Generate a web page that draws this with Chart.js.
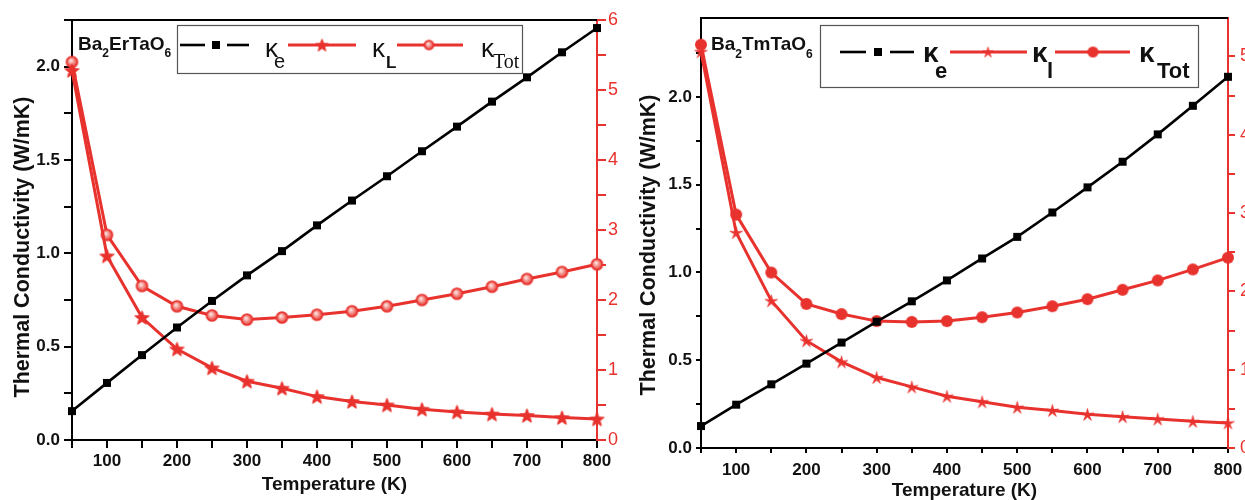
<!DOCTYPE html>
<html>
<head>
<meta charset="utf-8">
<script src="https://cdn.jsdelivr.net/npm/chart.js@4.4.0/dist/chart.umd.min.js"></script>
<style>
  html, body { margin: 0; padding: 0; background: #fff; overflow: hidden; width: 1245px; height: 500px; }
  .panel { position: absolute; top: 0; }
  #p1 { left: 0; }
  #p2 { left: 625px; }
</style>
</head>
<body>
<div class="panel" id="p1"><canvas id="c1" width="625" height="500"></canvas></div>
<div class="panel" id="p2"><canvas id="c2" width="640" height="505"></canvas></div>
<script>
// temperature (K)
const temps = [50, 100, 150, 200, 250, 300, 350, 400, 450, 500, 550, 600, 650, 700, 750, 800];

// Ba2ErTaO6 (W/mK)
const erKe   = [0.155, 0.306, 0.455, 0.603, 0.745, 0.882, 1.012, 1.150, 1.283, 1.413, 1.547, 1.679, 1.813, 1.943, 2.077, 2.207];
const erKl   = [5.28, 2.63, 1.75, 1.30, 1.03, 0.84, 0.74, 0.62, 0.55, 0.50, 0.44, 0.40, 0.37, 0.35, 0.32, 0.30];
const erKtot = [5.40, 2.93, 2.20, 1.91, 1.78, 1.72, 1.75, 1.79, 1.84, 1.91, 2.00, 2.09, 2.19, 2.30, 2.40, 2.51];

// Ba2TmTaO6 (W/mK)
const tmKe   = [0.125, 0.247, 0.363, 0.481, 0.601, 0.720, 0.836, 0.955, 1.080, 1.203, 1.342, 1.485, 1.631, 1.787, 1.950, 2.115];
const tmKl   = [5.06, 2.75, 1.88, 1.37, 1.10, 0.90, 0.78, 0.66, 0.59, 0.52, 0.48, 0.43, 0.40, 0.37, 0.34, 0.32];
const tmKtot = [5.15, 2.98, 2.24, 1.84, 1.71, 1.62, 1.61, 1.62, 1.67, 1.73, 1.81, 1.90, 2.02, 2.14, 2.28, 2.43];

const xTickLabels = [100, 200, 300, 400, 500, 600, 700, 800];

const RED = '#e8322e';
const INK = '#111';
const SANS = '"Liberation Sans", Arial, sans-serif';
const SERIF = '"Liberation Serif", "Times New Roman", serif';

// ---- marker images ----
function starImage(outer, inner, fill, stroke, lw) {
  const pad = Math.ceil(lw) + 1;
  const size = Math.ceil(outer * 2) + pad * 2;
  const c = document.createElement('canvas');
  c.width = c.height = size;
  const g = c.getContext('2d');
  const cx = size / 2, cy = size / 2 + outer * 0.1;
  g.beginPath();
  for (let i = 0; i < 10; i++) {
    const a = -Math.PI / 2 + i * Math.PI / 5;
    const r = i % 2 ? inner : outer;
    g.lineTo(cx + r * Math.cos(a), cy + r * Math.sin(a));
  }
  g.closePath();
  if (fill) { g.fillStyle = fill; g.fill(); }
  if (stroke) { g.strokeStyle = stroke; g.lineWidth = lw; g.lineJoin = 'round'; g.stroke(); }
  return c;
}

function ballImage(r, shaded) {
  const size = Math.ceil(r * 2) + 4;
  const c = document.createElement('canvas');
  c.width = c.height = size;
  const g = c.getContext('2d');
  const cx = size / 2, cy = size / 2;
  g.beginPath();
  g.arc(cx, cy, r, 0, Math.PI * 2);
  if (shaded) {
    const grd = g.createRadialGradient(cx - r * 0.25, cy - r * 0.3, 0, cx, cy, r);
    grd.addColorStop(0, '#fff4f2');
    grd.addColorStop(0.45, '#f5a09a');
    grd.addColorStop(1, RED);
    g.fillStyle = grd;
    g.fill();
    g.lineWidth = 1.6;
    g.strokeStyle = RED;
    g.stroke();
  } else {
    g.fillStyle = RED;
    g.fill();
  }
  return c;
}

function squareImage(side) {
  const size = Math.ceil(side) + 2;
  const c = document.createElement('canvas');
  c.width = c.height = size;
  const g = c.getContext('2d');
  g.fillStyle = '#000';
  g.fillRect((size - side) / 2, (size - side) / 2, side, side);
  return c;
}

// ---- plugins ----
const topFrame = {
  id: 'topFrame',
  afterDraw(chart) {
    const { ctx, chartArea: a } = chart;
    ctx.save();
    ctx.strokeStyle = '#000';
    ctx.lineWidth = 2;
    ctx.beginPath();
    ctx.moveTo(a.left - 1, a.top);
    ctx.lineTo(a.right, a.top);
    ctx.stroke();
    ctx.restore();
  }
};

// vertical axis title placed a bit below the plot centre, as in the figure
function yTitlePlugin(text, x, y, size) {
  return {
    id: 'yTitle',
    afterDraw(chart) {
      const g = chart.ctx;
      g.save();
      g.translate(x, y);
      g.rotate(-Math.PI / 2);
      g.font = 'bold ' + size + 'px ' + SANS;
      g.fillStyle = INK;
      g.textAlign = 'center';
      g.textBaseline = 'middle';
      g.fillText(text, 0, 0);
      g.restore();
    }
  };
}

function drawFormula(g, parts, x, base, subBase, font, subFont) {
  parts.forEach(([txt, sub]) => {
    g.font = sub ? subFont : font;
    g.fillText(txt, x, sub ? subBase : base);
    x += g.measureText(txt).width;
  });
}

function legendPlugin(cfg) {
  return {
    id: 'kLegend',
    afterDraw(chart) {
      const g = chart.ctx;
      const o = cfg.offset;
      g.save();
      const [bx0, by0, bx1, by1] = cfg.box;
      g.fillStyle = '#fff';
      g.fillRect(bx0 - o, by0, bx1 - bx0, by1 - by0);
      g.strokeStyle = '#555';
      g.lineWidth = 1.2;
      g.strokeRect(bx0 - o + 0.5, by0 + 0.5, bx1 - bx0, by1 - by0);

      cfg.items.forEach(it => {
        g.strokeStyle = it.color;
        g.lineWidth = it.lw;
        it.segs.forEach(([a, b]) => {
          g.beginPath();
          g.moveTo(a - o, cfg.lineY);
          g.lineTo(b - o, cfg.lineY);
          g.stroke();
        });
        const m = it.marker;
        g.drawImage(m, it.mx - o - m.width / 2, cfg.lineY - m.height / 2);
        g.fillStyle = INK;
        g.textBaseline = 'alphabetic';
        g.textAlign = 'left';
        g.font = cfg.kFont;
        g.fillText('κ', it.tx - o, cfg.kBase);
        g.font = it.subFont;
        g.fillText(it.sub, it.sx - o, cfg.subBase);
      });

      g.fillStyle = INK;
      g.textAlign = 'left';
      drawFormula(g, cfg.formula, cfg.fx - o, cfg.fBase, cfg.fSubBase,
        'bold 19px ' + SANS, 'bold 12px ' + SANS);
      g.restore();
    }
  };
}

// ---- chart builder ----
function pts(vals) {
  return temps.map((t, i) => ({ x: t, y: vals[i] }));
}

function makePanel(id, ke, kl, ktot, o) {
  return new Chart(document.getElementById(id), {
    type: 'line',
    data: {
      datasets: [
        {
          label: 'κe', data: pts(ke), yAxisID: 'y',
          borderColor: '#000', borderWidth: 2.6,
          pointStyle: squareImage(o.sq), pointRadius: 5, tension: 0, clip: false
        },
        {
          label: 'κL', data: pts(kl), yAxisID: 'y2',
          borderColor: RED, borderWidth: 3,
          pointStyle: o.star, pointRadius: 6, tension: 0, clip: false
        },
        {
          label: 'κTot', data: pts(ktot), yAxisID: 'y2',
          borderColor: RED, borderWidth: 3,
          pointStyle: o.ball, pointRadius: 6, tension: 0, clip: false
        }
      ]
    },
    options: {
      responsive: false,
      animation: false,
      devicePixelRatio: 1,
      layout: { padding: { top: o.top, left: 0, right: 0, bottom: 0 } },
      plugins: { legend: { display: false }, tooltip: { enabled: false } },
      scales: {
        x: {
          type: 'linear', min: 50, max: 800,
          afterFit: s => { s.height = o.xH; },
          grid: { drawOnChartArea: false, color: '#000', lineWidth: 2, tickLength: o.tick },
          border: { color: '#000', width: 2 },
          ticks: {
            stepSize: 50, autoSkip: false, maxRotation: 0, padding: o.xPad,
            color: INK, font: { family: SANS, size: 17, weight: 'bold' },
            callback: v => (xTickLabels.includes(v) ? String(v) : '')
          },
          title: {
            display: true, text: 'Temperature (K)', color: INK,
            font: { family: SANS, size: 19, weight: 'bold' },
            padding: { top: 0, bottom: o.xTitlePad }
          }
        },
        y: {
          position: 'left', min: 0, max: o.yMax,
          afterFit: s => { s.width = o.yW; },
          grid: { drawOnChartArea: false, color: '#000', lineWidth: 2, tickLength: o.tick },
          border: { color: '#000', width: 2 },
          ticks: {
            stepSize: 0.25, includeBounds: false, padding: 4,
            color: INK, font: { family: SANS, size: 17, weight: 'bold' },
            callback: v => (Math.abs(v * 2 - Math.round(v * 2)) < 1e-6 ? v.toFixed(1) : '')
          }
        },
        y2: {
          position: 'right', min: 0, max: o.y2Max,
          afterFit: s => { s.width = o.y2W; },
          grid: { drawOnChartArea: false, color: RED, lineWidth: 2, tickLength: o.tick2 },
          border: { color: RED, width: 2 },
          ticks: {
            stepSize: 0.5, includeBounds: false, padding: o.y2Pad,
            color: RED, font: { family: SANS, size: 18 },
            callback: v => (Number.isInteger(v) ? String(v) : '')
          }
        }
      }
    },
    plugins: [topFrame, yTitlePlugin('Thermal Conductivity (W/mK)', o.yt[0], o.yt[1], 21.5), legendPlugin(o.legend)]
  });
}

makePanel('c1', erKe, erKl, erKtot, {
  top: 20, xH: 60, yW: 72, y2W: 28, yMax: 2.25, y2Max: 6,
  tick: 8, tick2: 9, y2Pad: 2, xPad: 3, xTitlePad: 4, yt: [23, 247], sq: 8,
  star: starImage(7.5, 3.2, RED, RED, 1),
  ball: ballImage(5.5, true),
  legend: {
    offset: 0, box: [177, 25, 522, 73], lineY: 45,
    kFont: '26px ' + SANS, kBase: 57, subBase: 68,
    fx: 78, fBase: 50, fSubBase: 57,
    formula: [['Ba', false], ['2', true], ['ErTaO', false], ['6', true]],
    items: [
      { color: '#000', lw: 2.6, segs: [[180, 205], [227, 249]], mx: 216, marker: squareImage(8),
        tx: 265, sx: 274, sub: 'e', subFont: '20px ' + SANS },
      { color: RED, lw: 3, segs: [[288, 356]], mx: 322, marker: starImage(6.5, 2.8, RED, RED, 1),
        tx: 372, sx: 386, sub: 'L', subFont: 'bold 17px ' + SANS },
      { color: RED, lw: 3, segs: [[397, 463]], mx: 429, marker: ballImage(4.5, true),
        tx: 481, sx: 493, sub: 'Tot', subFont: '20px ' + SERIF }
    ]
  }
});

makePanel('c2', tmKe, tmKl, tmKtot, {
  top: 18, xH: 57, yW: 76, y2W: 37, yMax: 2.45, y2Max: 5.49,
  tick: 5, tick2: 7, y2Pad: 5, xPad: 7, xTitlePad: 3, yt: [24, 245], sq: 8,
  star: starImage(6.5, 2, RED, RED, 0.8),
  ball: ballImage(6, false),
  legend: {
    offset: 625, box: [820, 25, 1198, 87], lineY: 52,
    kFont: 'bold 28px ' + SANS, kBase: 62, subBase: 78,
    fx: 711, fBase: 50, fSubBase: 58,
    formula: [['Ba', false], ['2', true], ['TmTaO', false], ['6', true]],
    items: [
      { color: '#000', lw: 2.6, segs: [[840, 866], [890, 914]], mx: 878, marker: squareImage(8),
        tx: 923, sx: 935, sub: 'e', subFont: 'bold 22px ' + SANS },
      { color: RED, lw: 3, segs: [[950, 1027]], mx: 988, marker: starImage(5.5, 1.8, RED, RED, 0.8),
        tx: 1032, sx: 1047, sub: 'l', subFont: 'bold 22px ' + SANS },
      { color: RED, lw: 3, segs: [[1055, 1130]], mx: 1093, marker: ballImage(5.5, false),
        tx: 1139, sx: 1157, sub: 'Tot', subFont: 'bold 22px ' + SANS }
    ]
  }
});
</script>
</body>
</html>
